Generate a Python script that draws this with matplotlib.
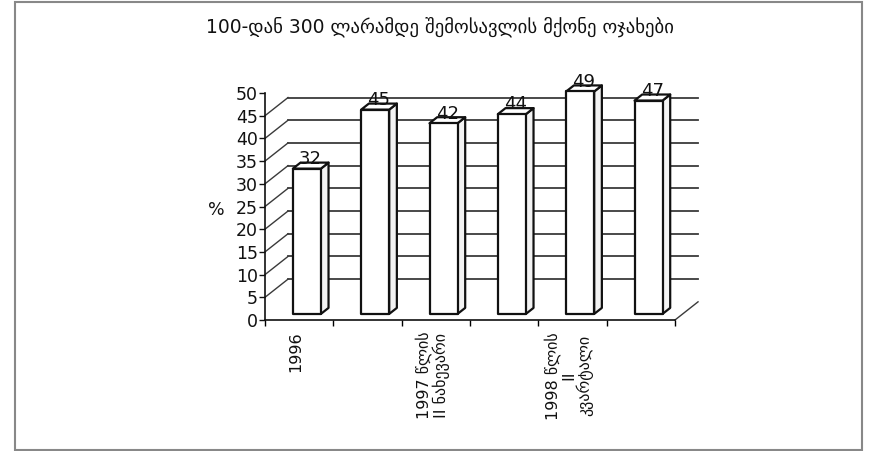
import matplotlib
matplotlib.use("Agg")
import matplotlib.pyplot as plt
from matplotlib.patches import Polygon, Rectangle

# data
categories = ["1996", "", "1997 წლის\nII ნახევარი", "", "1998 წლის\nII\nკვარტალი", ""]
values = [32, 45, 42, 44, 49, 47]
title = "100-დან 300 ლარამდე შემოსავლის მქონე ოჯახები"
y_ticks = list(range(0, 55, 5))

plt.rcParams["font.family"] = ["DejaVu Sans"]

fig = plt.figure(figsize=(8.72, 4.51), dpi=100)
# front plane of the pseudo-3D plot
ax = fig.add_axes([265 / 872, 1 - 320 / 451, 410 / 872, 227 / 451])
ax.set_xlim(0, len(values))
ax.set_ylim(0, 50)

DX = 0.337   # depth offset in category units
DY = 4.0     # depth offset in value units
W = 0.41     # bar width
ink = "#111111"
grid_c = "#3a3a3a"

# back wall gridlines and the diagonals joining them to the front ticks
for v in y_ticks[1:-1]:
    ax.plot([DX, len(values) + DX], [v + DY, v + DY], color=grid_c, lw=1.3,
            clip_on=False, zorder=1)
    ax.plot([0, DX], [v, v + DY], color=grid_c, lw=1.0, clip_on=False, zorder=1)
# right floor edge
ax.plot([len(values), len(values) + DX], [0, DY], color=grid_c, lw=1.0,
        clip_on=False, zorder=1)

# bars
d = DX / 3
h = DY / 3
for i, v in enumerate(values):
    xl = i + 0.5 - W / 2 + d
    y0 = h
    front = [(xl, y0), (xl + W, y0), (xl + W, y0 + v), (xl, y0 + v)]
    side = [(xl + W, y0), (xl + W + d, y0 + h), (xl + W + d, y0 + v + h), (xl + W, y0 + v)]
    top = [(xl, y0 + v), (xl + W, y0 + v), (xl + W + d, y0 + v + h), (xl + d, y0 + v + h)]
    for pts, fc in [(side, "#f3f3f3"), (top, "white"), (front, "white")]:
        ax.add_patch(Polygon(pts, closed=True, facecolor=fc, edgecolor=ink,
                             lw=1.6, joinstyle="round", clip_on=False, zorder=3))
    ax.text(i + 0.5 + d + d / 2, y0 + v + h - 0.3, str(v), ha="center",
            va="baseline", fontsize=13, color=ink, zorder=4)

# category labels
for i, lab in enumerate(categories):
    if lab:
        ax.text(i + 0.45, -2.6, lab, rotation=90, ha="center", va="top",
                multialignment="center", linespacing=1.0, fontsize=11.5,
                color=ink)

for side_name in ["top", "right"]:
    ax.spines[side_name].set_visible(False)
for side_name in ["left", "bottom"]:
    ax.spines[side_name].set_color(ink)
    ax.spines[side_name].set_linewidth(1.2)

ax.set_yticks(y_ticks)
ax.set_xticks(range(len(values) + 1))
ax.set_xticklabels([])
ax.tick_params(axis="y", direction="out", length=4, width=1.0, pad=1,
               labelsize=12.5, colors=ink)
ax.tick_params(axis="x", direction="out", length=4, width=1.0)
ax.patch.set_alpha(0)

fig.text(216 / 872, 1 - 210 / 451, "%", ha="center", va="center",
         fontsize=12.5, color=ink)
fig.text(440 / 872, 1 - 27 / 451, title, ha="center", va="center",
         fontsize=13.5, color=ink)

fig.add_artist(Rectangle((15 / 872, 1 / 451), 847 / 872, 448 / 451,
                         transform=fig.transFigure, fill=False,
                         edgecolor="#888888", lw=1.5))

fig.savefig("out.png", dpi=100)
